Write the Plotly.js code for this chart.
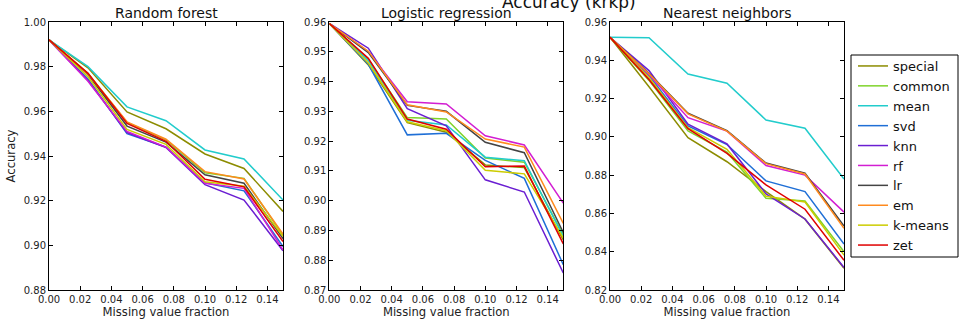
<!DOCTYPE html>
<html>
<head>
<meta charset="utf-8">
<script src="https://cdn.plot.ly/plotly-3.0.1.min.js"></script>
<style>html,body{margin:0;padding:0;background:#fff;}#chart{width:959px;height:320px;}</style>
</head>
<body>
<div id="chart"></div>
<script>
const fractions = [0, 0.025, 0.05, 0.075, 0.1, 0.125, 0.15];
const methods = ["special", "common", "mean", "svd", "knn", "rf", "lr", "em", "k-means", "zet"];
const panelTitles = ["Random forest", "Logistic regression", "Nearest neighbors"];
const suptitle = "Accuracy (krkp)";
const xTitle = "Missing value fraction";
const yTitle = "Accuracy";

const rfSpecial = [0.992, 0.9795, 0.9597, 0.9522, 0.9409, 0.9344, 0.9152];
const rfCommon  = [0.992, 0.9770, 0.9550, 0.9472, 0.9325, 0.9300, 0.9045];
const rfMean    = [0.992, 0.9800, 0.9620, 0.9558, 0.9427, 0.9387, 0.9203];
const rfSvd     = [0.992, 0.9745, 0.9500, 0.9440, 0.9280, 0.9244, 0.8995];
const rfKnn     = [0.992, 0.9738, 0.9505, 0.9438, 0.9272, 0.9203, 0.8976];
const rfRf      = [0.992, 0.9735, 0.9510, 0.9440, 0.9278, 0.9255, 0.8980];
const rfLr      = [0.992, 0.9765, 0.9534, 0.9462, 0.9316, 0.9278, 0.9030];
const rfEm      = [0.992, 0.9768, 0.9553, 0.9475, 0.9330, 0.9297, 0.9050];
const rfKmeans  = [0.992, 0.9755, 0.9519, 0.9452, 0.9285, 0.9265, 0.9040];
const rfZet     = [0.992, 0.9770, 0.9546, 0.9466, 0.9296, 0.9262, 0.9017];

const lrSpecial = [0.9595, 0.9456, 0.9262, 0.9230, 0.9120, 0.9111, 0.8868];
const lrCommon  = [0.9595, 0.9475, 0.9279, 0.9274, 0.9143, 0.9129, 0.8885];
const lrMean    = [0.9595, 0.9470, 0.9270, 0.9254, 0.9146, 0.9134, 0.8880];
const lrSvd     = [0.9595, 0.9458, 0.9221, 0.9226, 0.9135, 0.9075, 0.8785];
const lrKnn     = [0.9595, 0.9512, 0.9309, 0.9251, 0.9070, 0.9029, 0.8757];
const lrRf      = [0.9595, 0.9500, 0.9332, 0.9325, 0.9218, 0.9187, 0.8992];
const lrLr      = [0.9595, 0.9497, 0.9320, 0.9300, 0.9196, 0.9161, 0.8893];
const lrEm      = [0.9595, 0.9502, 0.9322, 0.9298, 0.9207, 0.9180, 0.8924];
const lrKmeans  = [0.9595, 0.9462, 0.9265, 0.9235, 0.9102, 0.9090, 0.8875];
const lrZet     = [0.9595, 0.9478, 0.9274, 0.9240, 0.9114, 0.9116, 0.8855];

const nnSpecial = [0.952, 0.9262, 0.8996, 0.8870, 0.8714, 0.8570, 0.8313];
const nnCommon  = [0.952, 0.9295, 0.9031, 0.8920, 0.8679, 0.8665, 0.8400];
const nnMean    = [0.952, 0.9518, 0.9328, 0.9280, 0.9088, 0.9045, 0.8780];
const nnSvd     = [0.952, 0.9320, 0.9057, 0.8960, 0.8770, 0.8714, 0.8440];
const nnKnn     = [0.952, 0.9346, 0.9066, 0.8963, 0.8702, 0.8571, 0.8318];
const nnRf      = [0.952, 0.9325, 0.9100, 0.9030, 0.8850, 0.8800, 0.8607];
const nnLr      = [0.952, 0.9332, 0.9123, 0.9033, 0.8863, 0.8811, 0.8534];
const nnEm      = [0.952, 0.9330, 0.9120, 0.9030, 0.8860, 0.8806, 0.8522];
const nnKmeans  = [0.952, 0.9310, 0.9048, 0.8935, 0.8690, 0.8660, 0.8382];
const nnZet     = [0.952, 0.9300, 0.9043, 0.8914, 0.8749, 0.8622, 0.8355];

const panels = [
  [rfSpecial, rfCommon, rfMean, rfSvd, rfKnn, rfRf, rfLr, rfEm, rfKmeans, rfZet],
  [lrSpecial, lrCommon, lrMean, lrSvd, lrKnn, lrRf, lrLr, lrEm, lrKmeans, lrZet],
  [nnSpecial, nnCommon, nnMean, nnSvd, nnKnn, nnRf, nnLr, nnEm, nnKmeans, nnZet]
];

const colors = ["#8c8c00", "#7fd32a", "#22cccc", "#1f6fd6", "#6a1ed2", "#d21ed2", "#444444", "#ff8a1e", "#cccc00", "#e00000"];

const W = 959, H = 320;
const xPix = [[49, 283], [329.3, 563.3], [610, 844]];
const yPix = [22, 290];
const yRanges = [[0.88, 1.0], [0.87, 0.96], [0.82, 0.96]];
const yDticks = [0.02, 0.01, 0.02];

const traces = [];
panels.forEach((series, p) => {
  series.forEach((vals, i) => {
    traces.push({
      x: fractions, y: vals, type: "scatter", mode: "lines",
      name: methods[i],
      showlegend: p === 0,
      line: {color: colors[i], width: 1.5},
      xaxis: p === 0 ? "x" : "x" + (p + 1),
      yaxis: p === 0 ? "y" : "y" + (p + 1)
    });
  });
});

const fam = "DejaVu Sans, sans-serif";
const font = {family: fam, size: 10, color: "#222"};
const layout = {
  width: W, height: H,
  margin: {l: 0, r: 0, t: 0, b: 0},
  paper_bgcolor: "#fff", plot_bgcolor: "#fff",
  font: font,
  showlegend: true,
  legend: {
    x: 853 / W, y: 1 - 51 / H, xanchor: "left", yanchor: "top",
    borderwidth: 0, bgcolor: "rgba(0,0,0,0)",
    font: {family: fam, size: 13, color: "#111"},
    tracegroupgap: 0
  },
  shapes: [{
    type: "rect", xref: "paper", yref: "paper",
    x0: 851 / W, x1: 958 / W, y0: 1 - 257 / H, y1: 1 - 55 / H,
    line: {color: "#000", width: 1}, fillcolor: "rgba(0,0,0,0)", layer: "below"
  }],
  annotations: []
};

for (let p = 0; p < 3; p++) {
  const sx = p === 0 ? "" : String(p + 1);
  layout["xaxis" + sx] = {
    domain: [xPix[p][0] / W, xPix[p][1] / W],
    anchor: "y" + sx,
    range: [0, 0.15], dtick: 0.02, tick0: 0, tickformat: ".2f",
    showline: true, mirror: "ticks", linecolor: "#000", linewidth: 1,
    ticks: "inside", ticklen: 4, tickcolor: "#000",
    showgrid: false, zeroline: false,
    tickfont: font,
    title: {text: xTitle, font: {family: fam, size: 11.6, color: "#222"}, standoff: 3}
  };
  layout["yaxis" + sx] = {
    domain: [1 - yPix[1] / H, 1 - yPix[0] / H],
    anchor: "x" + sx,
    range: yRanges[p], dtick: yDticks[p], tick0: 0, tickformat: ".2f",
    showline: true, mirror: "ticks", linecolor: "#000", linewidth: 1,
    ticks: "inside", ticklen: 4, tickcolor: "#000",
    showgrid: false, zeroline: false,
    tickfont: font,
    title: p === 0 ? {text: yTitle, font: {family: fam, size: 11.6, color: "#222"}, standoff: 5} : {text: ""}
  };
  layout.annotations.push({
    text: panelTitles[p], xref: "paper", yref: "paper",
    x: (xPix[p][0] + xPix[p][1]) / 2 / W, y: 1 - 12.5 / H,
    xanchor: "center", yanchor: "middle", showarrow: false,
    font: {family: fam, size: 14, color: "#111"}
  });
}
layout.annotations.push({
  text: suptitle, xref: "paper", yref: "paper",
  x: 569 / W, y: 1 - 2 / H, xanchor: "center", yanchor: "middle", showarrow: false,
  font: {family: fam, size: 17, color: "#111"}
});

Plotly.newPlot("chart", traces, layout, {staticPlot: true, displayModeBar: false});
</script>
</body>
</html>
